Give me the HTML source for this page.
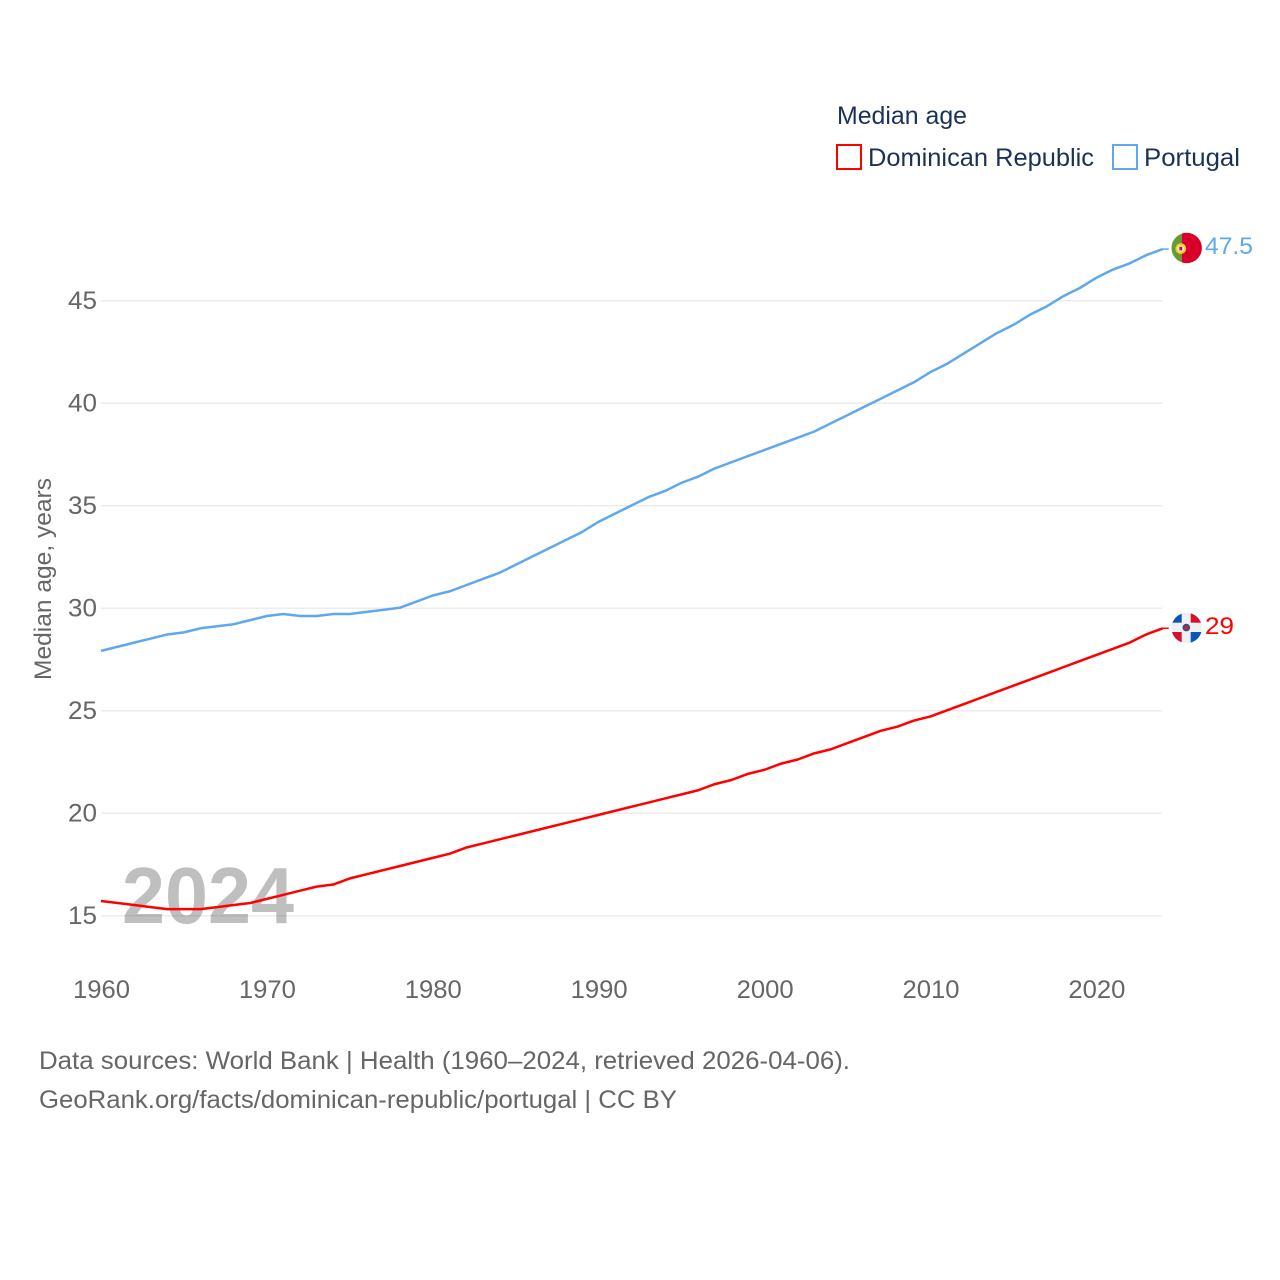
<!DOCTYPE html>
<html lang="en">
<head>
<meta charset="utf-8">
<title>Median age: Dominican Republic and Portugal</title>
<style>
html,body{margin:0;padding:0;background:#fff;}
svg{display:block;}
text{font-family:"Liberation Sans",sans-serif;}
</style>
</head>
<body>
<svg id="chart" xmlns="http://www.w3.org/2000/svg" width="1280" height="1280" viewBox="0 0 1280 1280">
  <rect x="0" y="0" width="1280" height="1280" fill="#fff"/>
  <g id="grid"></g>
  <g id="yticks"></g>
  <g id="xticks"></g>
  <text transform="translate(51,680) rotate(-90)" font-size="24" fill="#666" textLength="202" lengthAdjust="spacingAndGlyphs">Median age, years</text>
  <text x="122" y="923" font-size="80" font-weight="700" fill="#000" fill-opacity="0.25" textLength="172" lengthAdjust="spacingAndGlyphs">2024</text>
  <g id="series"></g>

  <g>
    <text x="837" y="124" font-size="25" fill="#1a3355" textLength="130" lengthAdjust="spacingAndGlyphs">Median age</text>
    <rect x="837" y="145" width="24" height="24" fill="none" stroke="#ff0000" stroke-width="2"/>
    <text x="868" y="166" font-size="25" fill="#1a3355" textLength="226" lengthAdjust="spacingAndGlyphs">Dominican Republic</text>
    <rect x="1113" y="145" width="24" height="24" fill="none" stroke="#5fa8ee" stroke-width="2"/>
    <text x="1144" y="166" font-size="25" fill="#1a3355" textLength="96" lengthAdjust="spacingAndGlyphs">Portugal</text>
  </g>

  <defs>
    <clipPath id="clip-pt"><circle cx="1186.7" cy="248" r="15.2"/></clipPath>
    <clipPath id="clip-do"><circle cx="1186.7" cy="628" r="15.2"/></clipPath>
  </defs>

  <g clip-path="url(#clip-pt)">
    <rect x="1171" y="232" width="10.7" height="32" fill="#5f9e32"/>
    <rect x="1181.7" y="232" width="21" height="32" fill="#d8002a"/>
    <circle cx="1180.8" cy="248.6" r="4.4" fill="#f6f0d0" stroke="#f2cf2d" stroke-width="2"/>
    <rect x="1179.4" y="246.8" width="2.8" height="3.6" fill="#d8002a"/>
  </g>
  <text x="1205" y="254" font-size="24" fill="#5fa8ee" textLength="48" lengthAdjust="spacingAndGlyphs">47.5</text>

  <g clip-path="url(#clip-do)">
    <rect x="1171" y="612" width="32" height="32" fill="#f0f0f2"/>
    <rect x="1171" y="612" width="10.7" height="10.7" fill="#0a58b5"/>
    <rect x="1190.7" y="612" width="12" height="10.7" fill="#d7102f"/>
    <rect x="1171" y="632" width="10.7" height="12" fill="#d7102f"/>
    <rect x="1190.7" y="632" width="12" height="12" fill="#0a58b5"/>
    <circle cx="1186.3" cy="627.6" r="3.8" fill="#3a4a78"/>
    <circle cx="1186.3" cy="627.8" r="2" fill="#c0283c"/>
  </g>
  <text x="1205" y="634" font-size="24" fill="#ff0000" textLength="29" lengthAdjust="spacingAndGlyphs">29</text>

  <text x="39" y="1069" font-size="25" fill="#666" textLength="811" lengthAdjust="spacingAndGlyphs">Data sources: World Bank | Health (1960–2024, retrieved 2026-04-06).</text>
  <text x="39" y="1108" font-size="25" fill="#666" textLength="638" lengthAdjust="spacingAndGlyphs">GeoRank.org/facts/dominican-republic/portugal | CC BY</text>
</svg>
<script>
const startYear = 1960;
const xTickYears = [1960, 1970, 1980, 1990, 2000, 2010, 2020];
const yTickValues = [15, 20, 25, 30, 35, 40, 45];
const portugalAges = [
  27.9,28.1,28.3,28.5,28.7,28.8,29.0,29.1,29.2,29.4,
  29.6,29.7,29.6,29.6,29.7,29.7,29.8,29.9,30.0,30.3,
  30.6,30.8,31.1,31.4,31.7,32.1,32.5,32.9,33.3,33.7,
  34.2,34.6,35.0,35.4,35.7,36.1,36.4,36.8,37.1,37.4,
  37.7,38.0,38.3,38.6,39.0,39.4,39.8,40.2,40.6,41.0,
  41.5,41.9,42.4,42.9,43.4,43.8,44.3,44.7,45.2,45.6,
  46.1,46.5,46.8,47.2,47.5
];
const dominicanAges = [
  15.7,15.6,15.5,15.4,15.3,15.3,15.3,15.4,15.5,15.6,
  15.8,16.0,16.2,16.4,16.5,16.8,17.0,17.2,17.4,17.6,
  17.8,18.0,18.3,18.5,18.7,18.9,19.1,19.3,19.5,19.7,
  19.9,20.1,20.3,20.5,20.7,20.9,21.1,21.4,21.6,21.9,
  22.1,22.4,22.6,22.9,23.1,23.4,23.7,24.0,24.2,24.5,
  24.7,25.0,25.3,25.6,25.9,26.2,26.5,26.8,27.1,27.4,
  27.7,28.0,28.3,28.7,29.0
];

const NS = 'http://www.w3.org/2000/svg';
function xScale(year) { return 101 + (year - 1960) * 16.59; }
function yScale(age) { return 915.8 - (age - 15) * 20.5; }
function makeEl(tag, parentId) {
  const el = document.createElementNS(NS, tag);
  document.getElementById(parentId).appendChild(el);
  return el;
}

yTickValues.forEach(function (v) {
  const line = makeEl('line', 'grid');
  
  
  line.setAttribute('x1', 101);
  line.setAttribute('x2', 1162);
  line.setAttribute('y1', yScale(v));
  line.setAttribute('y2', yScale(v));
  line.setAttribute('stroke', '#ececec');
  line.setAttribute('stroke-width', 1.5);

  const label = makeEl('text', 'yticks');
  
  
  label.setAttribute('x', 68);
  label.setAttribute('y', yScale(v) + 8);
  label.setAttribute('font-size', 25);
  label.setAttribute('fill', '#666');
  label.setAttribute('textLength', 29);
  label.setAttribute('lengthAdjust', 'spacingAndGlyphs');
  label.textContent = String(v);
});

xTickYears.forEach(function (y) {
  const label = makeEl('text', 'xticks');
  
  
  label.setAttribute('x', xScale(y) - 28);
  label.setAttribute('y', 998);
  label.setAttribute('font-size', 25);
  label.setAttribute('fill', '#666');
  label.setAttribute('textLength', 57);
  label.setAttribute('lengthAdjust', 'spacingAndGlyphs');
  label.textContent = String(y);
});

function linePath(values) {
  const pts = values.map(function (v, i) {
    return xScale(startYear + i).toFixed(2) + ',' + (yScale(v) - 0.5).toFixed(2);
  });
  return 'M' + pts.join('L');
}

function stubPath(values) {
  const lastX = xScale(startYear + values.length - 1);
  const lastY = yScale(values[values.length - 1]) - 0.5;
  return 'M' + lastX.toFixed(2) + ',' + lastY.toFixed(2) + 'L' + (lastX + 6).toFixed(2) + ',' + lastY.toFixed(2);
}

const portugalLine = makeEl('path', 'series');


portugalLine.setAttribute('d', linePath(portugalAges));
portugalLine.setAttribute('fill', 'none');
portugalLine.setAttribute('stroke', '#5fa8ee');
portugalLine.setAttribute('stroke-width', 2.5);
portugalLine.setAttribute('stroke-linejoin', 'round');

const portugalStub = makeEl('path', 'series');


portugalStub.setAttribute('d', stubPath(portugalAges));
portugalStub.setAttribute('fill', 'none');
portugalStub.setAttribute('stroke', '#5fa8ee');
portugalStub.setAttribute('stroke-width', 1.5);

const dominicanLine = makeEl('path', 'series');


dominicanLine.setAttribute('d', linePath(dominicanAges));
dominicanLine.setAttribute('fill', 'none');
dominicanLine.setAttribute('stroke', '#ff0000');
dominicanLine.setAttribute('stroke-width', 2.5);
dominicanLine.setAttribute('stroke-linejoin', 'round');

const dominicanStub = makeEl('path', 'series');


dominicanStub.setAttribute('d', stubPath(dominicanAges));
dominicanStub.setAttribute('fill', 'none');
dominicanStub.setAttribute('stroke', '#ff0000');
dominicanStub.setAttribute('stroke-width', 1.5);
</script>
</body>
</html>
